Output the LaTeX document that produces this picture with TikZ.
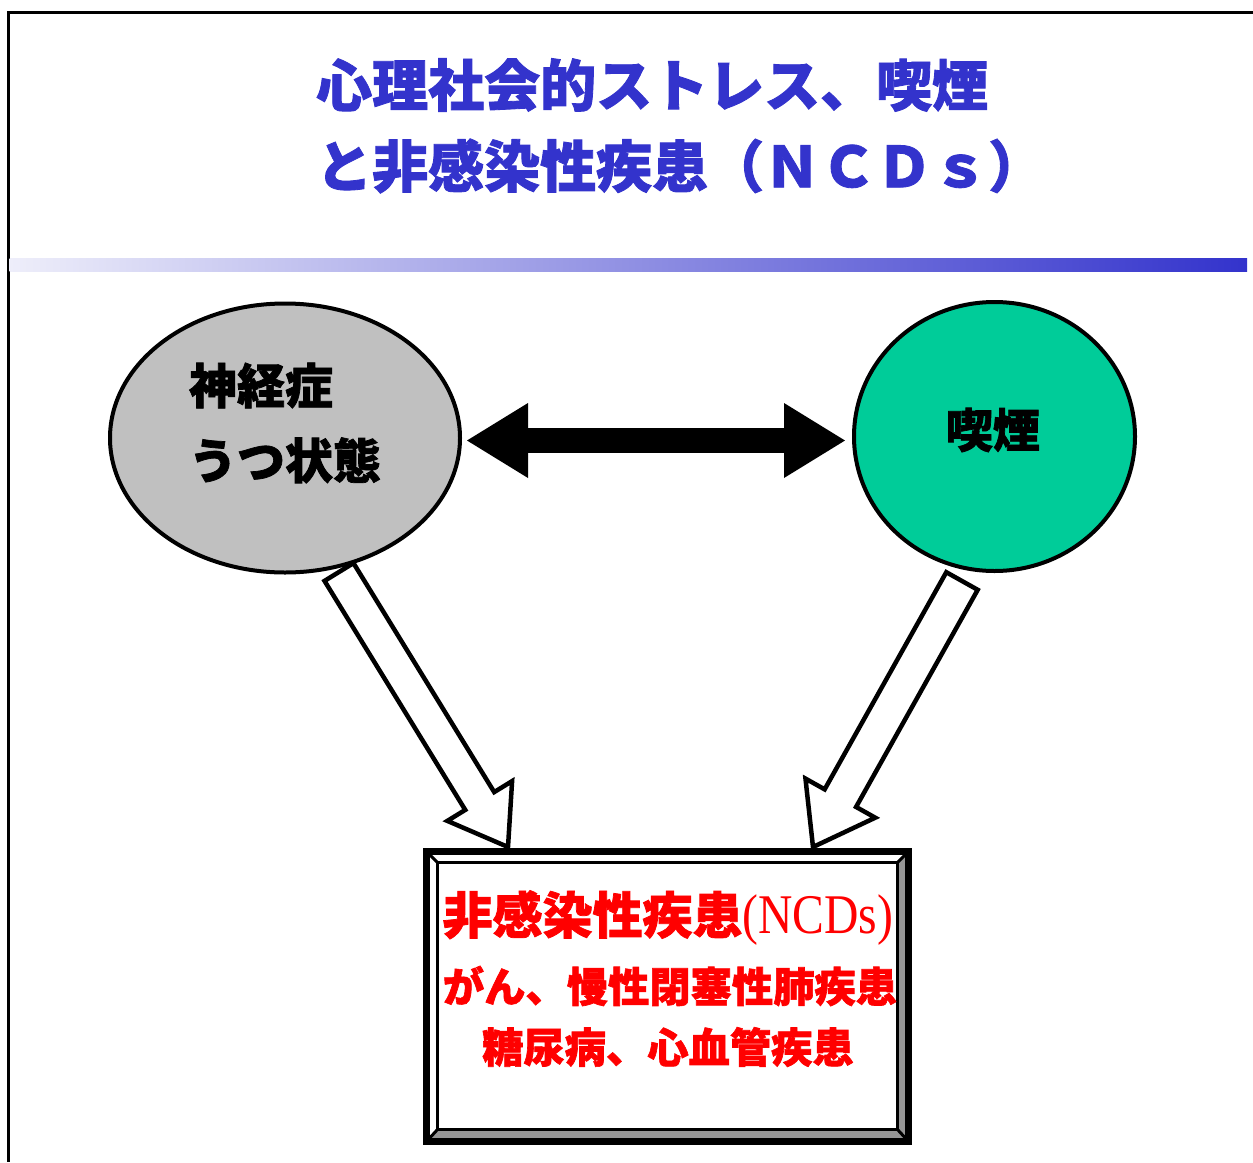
\documentclass[tikz,border=0pt]{standalone}
\usepackage{fontspec}
\usepackage{graphicx}
\newfontfamily\jp{Noto Sans CJK JP}[BoldFeatures={FakeBold=1.5}]
\newfontfamily\tnr{Liberation Serif}
\usetikzlibrary{arrows.meta,calc,shapes.geometric,backgrounds}
\definecolor{titleblue}{RGB}{51,51,204}
\definecolor{barlight}{RGB}{238,238,250}
\definecolor{ellgray}{RGB}{192,192,192}
\definecolor{smokegreen}{RGB}{0,204,153}
\definecolor{ncdred}{RGB}{255,0,0}
\definecolor{bevelgray}{RGB}{150,150,150}
\tikzset{
  titletext/.style={anchor=west,inner sep=0pt,text=titleblue,font=\jp\bfseries\fontsize{56}{56}\selectfont},
  bubble/.style={ellipse,draw=black,line width=4pt,inner sep=0pt},
  bubbletext/.style={inner sep=0pt,align=left,font=\jp\bfseries\fontsize{48}{75}\selectfont},
  dblarrow/.style={line width=25pt,
    {Triangle[width=75pt,length=61pt,line width=0pt]}-{Triangle[width=75pt,length=61pt,line width=0pt]}},
  openarrow/.style={draw=black,fill=white,line width=4.5pt,line join=miter},
  redtext/.style={inner sep=0pt,text=ncdred,font=\jp\bfseries\fontsize{41.3}{41.3}\selectfont},
  framebox/.style={minimum width=482pt,minimum height=290pt,inner sep=0pt},
}
\newcommand\openblockarrow[5]{%
  \coordinate (ba-h) at ($(#2)!#5!(#1)$);
  \draw[openarrow]
    ($(#1)!#3!90:(#2)$) --
    ($(ba-h)!#3!90:(#2)$) --
    ($(ba-h)!#4!90:(#2)$) --
    (#2) --
    ($(ba-h)!#4!-90:(#2)$) --
    ($(ba-h)!#3!-90:(#2)$) --
    ($(#1)!#3!-90:(#2)$) -- cycle;}
\begin{document}
\begin{tikzpicture}[x=1pt,y=-1pt]
\useasboundingbox (0,0) rectangle (1253,1162);
% page frame
\draw[line width=3pt] (1253,12.5) -- (8,12.5) -- (8,1162);
% gradient bar
\shade[left color=barlight,right color=titleblue] (9.5,258) rectangle (1247,271);
% title
\node[titletext] (t1) at (316,85) {心理社会的ストレス、喫煙};
\node[titletext] (t2) at (316,166) {と非感染性疾患（ＮＣＤｓ）};
% bubbles
\node[bubble,fill=ellgray,minimum width=350pt,minimum height=269pt] (L) at (285,438) {};
\node[bubble,fill=smokegreen,minimum width=281pt,minimum height=269pt] (R) at (994.5,436.5) {};
\node[bubbletext] (Ltxt) at (285,423) {神経症\\うつ状態};
\node[bubbletext,font=\jp\bfseries\fontsize{47}{47}\selectfont] (Rtxt) at (993,430) {喫煙};
% double arrow
\draw[dblarrow] ([xshift=5pt,yshift=-2.5pt]L.east) -- ([xshift=-7pt,yshift=-4pt]R.west);
% NCD box
\node[framebox] (ncd) at (667.5,996.5) {};
\coordinate (inw) at ($(ncd.north west)+(11,11)$);
\coordinate (ine) at ($(ncd.north east)+(-11,11)$);
\coordinate (isw) at ($(ncd.south west)+(11,-12)$);
\coordinate (ise) at ($(ncd.south east)+(-11,-12)$);
\fill[bevelgray] (ncd.north east) -- (ncd.south east) -- (ise) -- (ine) -- cycle;
\fill[bevelgray] (ncd.south west) -- (ncd.south east) -- (ise) -- (isw) -- cycle;
\draw[line width=3pt] (ncd.north west) -- (inw) (ncd.north east) -- (ine)
  (ncd.south west) -- (isw) (ncd.south east) -- (ise);
\draw[line width=3.5pt] (inw) rectangle (ise);
\draw[line width=7pt,line join=miter] (ncd.north west) rectangle (ncd.south east);
\node[redtext,font=\jp\bfseries\fontsize{50}{50}\selectfont] (n1) at (668,918)
  {非感染性疾患{\tnr\mdseries\fontsize{56}{56}\selectfont\scalebox{0.85}[1]{(NCDs)}}};
\node[redtext] (n2) at (670,986) {がん、慢性閉塞性肺疾患};
\node[redtext] (n3) at (668,1047) {糖尿病、心血管疾患};
% open block arrows (behind bubbles)
\begin{pgfonlayer}{background}
\coordinate (lt) at (339,572);
\coordinate (lp) at (508,847);
\coordinate (rt) at (962,581);
\coordinate (rp) at (813,847);
\openblockarrow{lt}{lp}{17pt}{38pt}{54pt}
\openblockarrow{rt}{rp}{18pt}{40pt}{56pt}
\end{pgfonlayer}
\end{tikzpicture}
\end{document}
